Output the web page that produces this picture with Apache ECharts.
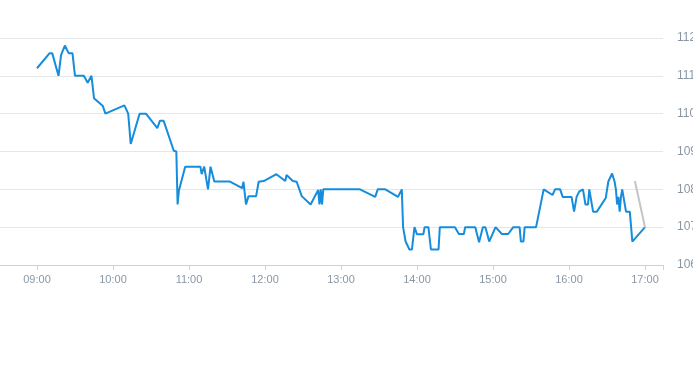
<!DOCTYPE html>
<html>
<head>
<meta charset="utf-8">
<script src="https://cdn.jsdelivr.net/npm/echarts@6/dist/echarts.min.js"></script>
<style>
html,body{margin:0;padding:0;background:#fff;overflow:hidden;}
#chart{width:693px;height:365px;}
</style>
</head>
<body>
<div id="chart"></div>
<script>
// Blue price line: times and values
var times = ["09:00","09:10","09:12","09:17","09:19","09:22","09:25","09:28","09:30","09:37","09:40","09:43","09:45","09:52","09:54",
"10:09","10:12","10:14","10:21","10:26","10:35","10:37","10:40","10:48","10:50","10:51","10:52","10:57",
"11:09","11:10","11:12","11:15","11:17","11:18","11:20","11:32","11:42","11:43","11:45","11:47","11:53","11:55","11:59",
"12:09","12:16","12:17","12:22","12:25","12:29","12:36","12:42","12:43","12:44","12:45","12:46",
"13:15","13:27","13:29","13:35","13:45","13:48","13:49","13:51","13:52","13:54","13:56","13:58",
"14:00","14:05","14:06","14:09","14:11","14:17","14:18","14:30","14:33","14:37","14:38","14:46","14:49","14:52","14:54","14:57",
"15:02","15:07","15:12","15:16","15:21","15:22","15:24","15:25","15:34","15:40","15:47","15:49","15:53","15:55",
"16:02","16:04","16:06","16:08","16:11","16:12","16:13","16:15","16:16","16:19","16:22","16:29","16:31","16:34","16:36","16:37","16:38","16:39","16:40","16:41","16:42","16:45","16:48","16:50",
"17:00"];
var values = [111.2,111.6,111.6,111.0,111.55,111.8,111.6,111.6,111.0,111.0,110.82,111.0,110.41,110.2,110.0,
110.22,110.0,109.2,110.0,110.0,109.62,109.81,109.81,109.02,109.0,107.6,107.96,108.6,
108.6,108.4,108.6,108.0,108.6,108.6,108.21,108.21,108.03,108.2,107.6,107.82,107.82,108.2,108.22,
108.4,108.22,108.38,108.22,108.2,107.82,107.6,107.98,107.6,108.0,107.6,108.0,
108.0,107.8,108.0,108.0,107.8,108.0,107.0,106.62,106.62,106.41,106.41,107.0,
106.81,106.81,107.0,107.0,106.41,106.41,107.0,107.0,106.82,106.82,107.0,107.0,106.6,107.0,107.0,106.62,
107.0,106.82,106.82,107.0,107.0,106.62,106.62,107.0,107.0,108.0,107.85,108.0,108.0,107.8,
107.8,107.41,107.8,107.94,108.0,108.0,107.6,107.6,108.0,107.41,107.41,107.77,108.2,108.42,108.2,108.0,107.6,107.8,107.41,107.8,108.0,107.41,107.41,106.62,
107.0];
// Grey segment
var greyTimes = ["16:52","17:00"];
var greyValues = [108.22,107.0];
// Axis labels
var xTickLabels = ["09:00","10:00","11:00","12:00","13:00","14:00","15:00","16:00","17:00"];
var yTicks = [106,107,108,109,110,111,112];

function toMin(s){var p=s.split(":");return (+p[0])*60+(+p[1]);}
function pad(n){return (n<10?"0":"")+n;}
function fmt(m){m=Math.round(m);return pad(Math.floor(m/60))+":"+pad(m%60);}

var blue = times.map(function(t,i){return [toMin(t), values[i]];});
var grey = greyTimes.map(function(t,i){return [toMin(t), greyValues[i]];});
var labelVals = xTickLabels.map(toMin);
var xMin = 510.8, xMax = 1034.2;

var chart = echarts.init(document.getElementById('chart'), null, {renderer:'canvas'});
chart.setOption({
  animation:false,
  backgroundColor:'#ffffff',
  grid:{left:0, right:30, top:38, bottom:100, containLabel:false, outerBoundsMode:'none'},
  xAxis:{
    type:'value', min:xMin, max:xMax,
    axisLine:{show:true, lineStyle:{color:'#ccd3da', width:1}},
    axisTick:{show:true, customValues: labelVals.concat([xMax]), length:5, lineStyle:{color:'#ccd3da'}},
    axisLabel:{customValues: labelVals, formatter:function(v){return fmt(v);}, color:'#8a97a3', fontSize:11, margin:9, fontFamily:'Liberation Sans, Arial, sans-serif'},
    splitLine:{show:false}
  },
  yAxis:{
    type:'value', position:'right', min:yTicks[0], max:yTicks[yTicks.length-1], interval:1,
    axisLine:{show:false}, axisTick:{show:false},
    axisLabel:{color:'#8a97a3', fontSize:12, margin:14, fontFamily:'Liberation Sans, Arial, sans-serif', padding:[4,0,0,0]},
    splitLine:{show:true, lineStyle:{color:'#e3e6ea', width:1}}
  },
  series:[
    {type:'line', data:blue, showSymbol:false, symbol:'none', lineStyle:{color:'#168ddc', width:2}, itemStyle:{color:'#168ddc'}},
    {type:'line', data:grey, showSymbol:false, symbol:'none', lineStyle:{color:'#c2c6ca', width:2}, itemStyle:{color:'#c2c6ca'}}
  ]
});
</script>
</body>
</html>
